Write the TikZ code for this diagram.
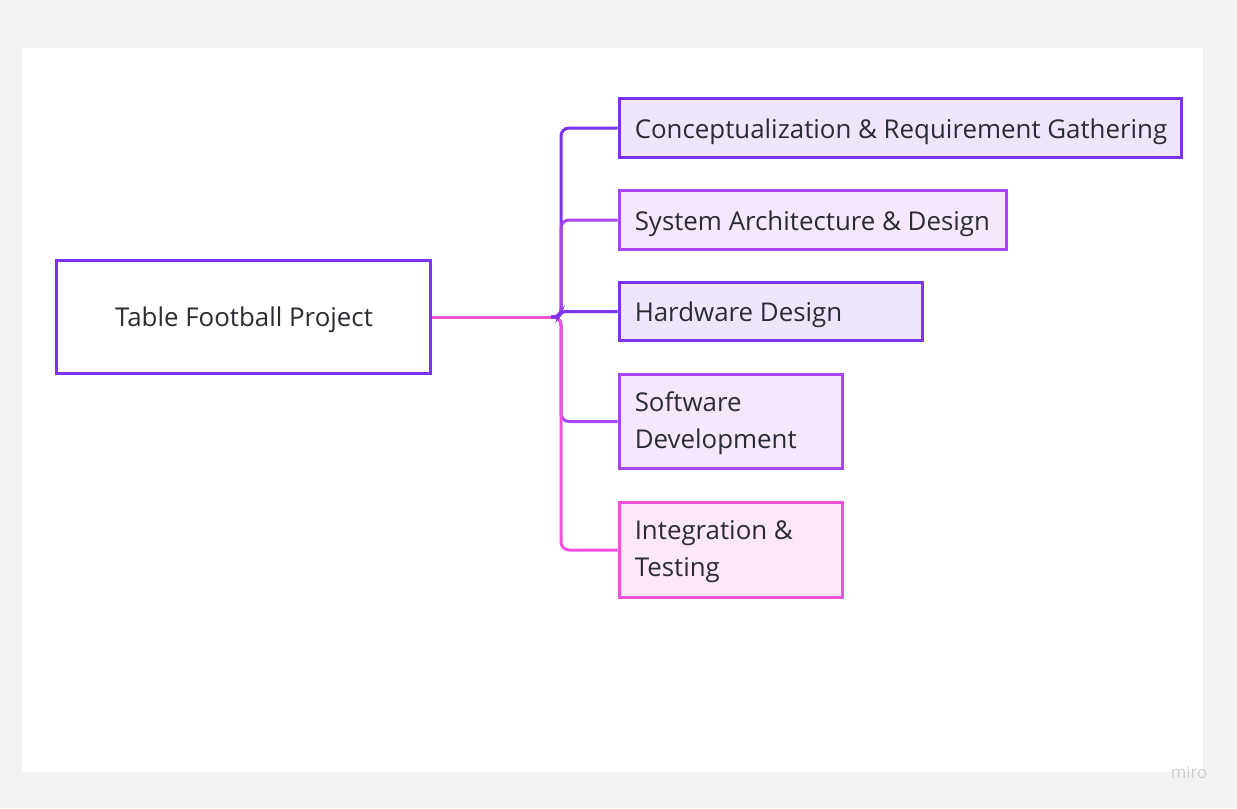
\documentclass[tikz,border=0pt]{standalone}
\usepackage{fontspec}
\setmainfont{Open Sans}
\definecolor{bgray}{HTML}{F2F2F2}
\definecolor{violet}{HTML}{7B33EE}
\definecolor{purp}{HTML}{A944F0}
\definecolor{pinkc}{HTML}{F052DC}
\definecolor{fviolet}{HTML}{EFE6FD}
\definecolor{fpurp}{HTML}{F5E8FD}
\definecolor{fpink}{HTML}{FDE8F9}
\definecolor{txt}{HTML}{2B2B33}
\begin{document}
\begin{tikzpicture}[x=0.75pt,y=-0.75pt,
  box/.style={draw, line width=2.25pt, inner sep=0pt},
  lbl/.style={inner sep=0pt, text=txt, font=\fontsize{19.4pt}{27.75pt}\selectfont, align=left},
  br/.style={line width=2.25pt, rounded corners=6pt}]
\useasboundingbox (0,0) rectangle (1237,808);
\fill[bgray] (0,0) rectangle (1237,808);
\fill[white] (22,48) rectangle (1203,772);
\node[text=black!20, font=\fontsize{12.5pt}{14pt}\selectfont] (miro) at (1189,772) {miro};

% root
\node[box, draw=violet, fill=white, minimum width=373.5*0.75pt, minimum height=112.5*0.75pt] (root) at (243.5,317) {};
\node[lbl, anchor=base] (roott) at (244,326) {Table Football Project};

% children
\node[box, draw=violet, fill=fviolet, minimum width=562.5*0.75pt, minimum height=58.5*0.75pt, anchor=west] (c1) at (617.5,128) {};
\node[box, draw=purp, fill=fpurp, minimum width=387.5*0.75pt, minimum height=58.5*0.75pt, anchor=west] (c2) at (617.5,220) {};
\node[box, draw=violet, fill=fviolet, minimum width=303.5*0.75pt, minimum height=58.5*0.75pt, anchor=west] (c3) at (617.5,311.5) {};
\node[box, draw=purp, fill=fpurp, minimum width=223.5*0.75pt, minimum height=94.5*0.75pt, anchor=west] (c4) at (617.5,421.5) {};
\node[box, draw=pinkc, fill=fpink, minimum width=223.5*0.75pt, minimum height=94.5*0.75pt, anchor=west] (c5) at (617.5,550) {};

\node[lbl, anchor=base west] (t1) at ([xshift=12.75pt, yshift=-7.5pt]c1.west) {Conceptualization \& Requirement Gathering};
\node[lbl, anchor=base west] (t2) at ([xshift=12.75pt, yshift=-7.5pt]c2.west) {System Architecture \& Design};
\node[lbl, anchor=base west] (t3) at ([xshift=12.75pt, yshift=-7.5pt]c3.west) {Hardware Design};
\node[lbl, anchor=west] (t4) at ([xshift=12.75pt, yshift=-1pt]c4.west) {Software\\Development};
\node[lbl, anchor=west] (t5) at ([xshift=12.75pt, yshift=-1pt]c5.west) {Integration \&\\Testing};

% connectors
\coordinate (fork) at (551,317);
\draw[br, violet] (fork) -- (561,317) |- (c1.west);
\draw[br, purp] (fork) -- (561,317) |- (c2.west);
\draw[br, purp] (fork) -- (561,317) |- (c4.west);
\draw[br, pinkc] (fork) -- (561,317) |- (c5.west);
\draw[line width=2.25pt, violet, rounded corners=3pt] (fork) -- (559,317) -- (561,311.5) -- (c3.west);
\draw[line width=2.25pt, pinkc] (root.east) -- (fork);
\end{tikzpicture}
\end{document}
